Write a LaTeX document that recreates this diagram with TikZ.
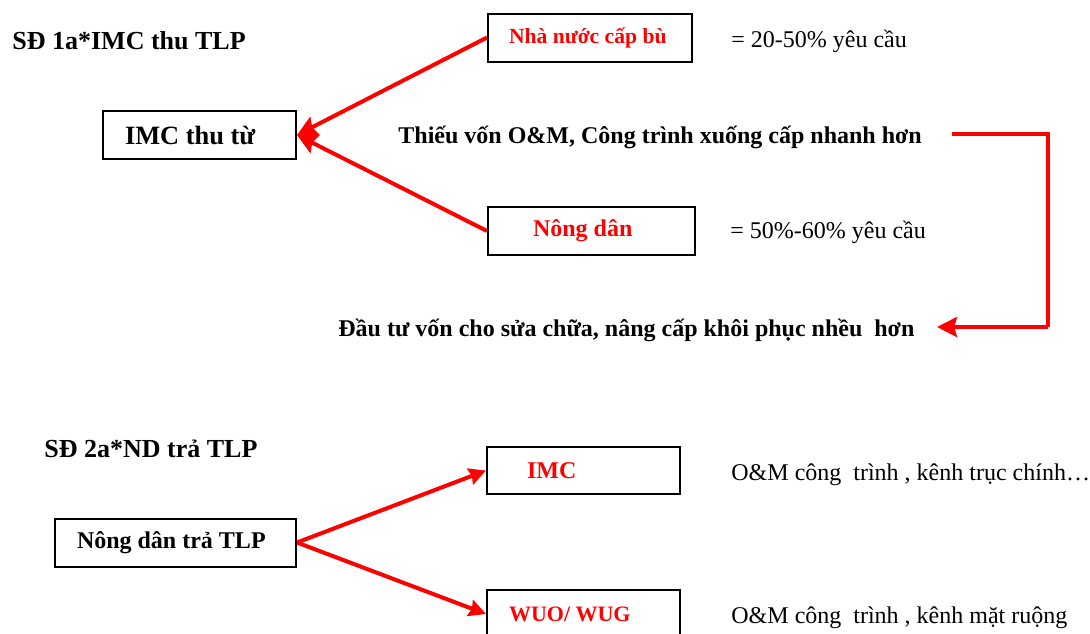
\documentclass[tikz,border=0pt]{standalone}
\usepackage{fontspec}
\setmainfont{Liberation Serif}
\usetikzlibrary{arrows.meta}
\definecolor{rd}{RGB}{255,0,0}
\newcommand\bxt[3]{\makebox[#1][l]{\hspace*{#2}\raisebox{-1pt}{#3}}}
\begin{document}
\begin{tikzpicture}[x=0.5pt,y=-0.5pt,
  box/.style={draw,line width=1pt,inner sep=0pt,minimum height=24pt,anchor=center},
  txt/.style={inner sep=0pt,anchor=base west},
  big/.style={font=\fontsize{13}{15}\selectfont\bfseries},
  bold/.style={font=\fontsize{12}{14}\selectfont\bfseries},
  reg/.style={font=\fontsize{12}{14}\selectfont},
  rline/.style={draw=rd,line width=2pt},
  bigarrow/.style={rline,-{Stealth[length=10pt,width=10pt,inset=1.5pt]}},
  smallarrow/.style={rline,-{Stealth[length=8.5pt,width=8.5pt,inset=1pt]}}]
\useasboundingbox (0,0) rectangle (1090,633);
\clip (0,0) rectangle (1090,633);

% ---------- SD 1a ----------
\node[txt,big] (t1) at (12,49) {SĐ 1a*IMC thu TLP};
\node[box] (imcthu) at (199.5,135) {\bxt{96.5pt}{11pt}{\fontsize{13.2}{15}\selectfont\bfseries IMC thu từ}};
\node[box] (nn) at (590,37.5) {\bxt{102pt}{10.5pt}{\fontsize{10.8}{13}\selectfont\bfseries\color{rd}Nhà nước cấp bù}};
\node[box] (nd) at (591.5,231) {\bxt{103.5pt}{22.5pt}{\fontsize{12}{14}\selectfont\bfseries\color{rd}Nông dân}};
\node[txt,reg] (p1) at (731,47) {= 20-50\% yêu cầu};
\node[txt,reg] (p2) at (730,238) {= 50\%-60\% yêu cầu};
\node[txt,bold] (thieu) at (398,143) {Thiếu vốn O\&M, Công trình xuống cấp nhanh hơn};
\node[txt,bold] (dautu) at (338,336) {Đầu tư vốn cho sửa chữa, nâng cấp khôi phục nhều\ \ hơn};

\draw[bigarrow] (nn.west) -- (imcthu.east);
\draw[bigarrow] (nd.west) -- (imcthu.east);

\coordinate (e1) at (952,134);
\coordinate (e2) at (1048,327);
\coordinate (e3) at (937,327);
\draw[rline] (e1) -- (e1 -| e2) -- (e2);
\draw[bigarrow] (e2) -- (e3);

% ---------- SD 2a ----------
\node[txt,big] (t2) at (44,457) {SĐ 2a*ND trả TLP};
\node[box] (ndtra) at (175.5,542.5) {\bxt{120.5pt}{11pt}{\fontsize{12}{14}\selectfont\bfseries Nông dân trả TLP}};
\node[box,minimum height=23.5pt] (imc2) at (583.5,470.5) {\bxt{96.5pt}{20pt}{\fontsize{12}{14}\selectfont\bfseries\color{rd}IMC}};
\node[box] (wuo) at (583.5,614) {\bxt{96.5pt}{11pt}{\fontsize{11}{13}\selectfont\bfseries\color{rd}WUO/ WUG}};
\node[txt,reg] (o1) at (731,480) {O\&M công\ \ trình , kênh trục chính…};
\node[txt,reg] (o2) at (731,623) {O\&M công\ \ trình , kênh mặt ruộng};

\draw[smallarrow] (ndtra.east) -- (imc2.west);
\draw[smallarrow] (ndtra.east) -- (wuo.west);
\end{tikzpicture}
\end{document}
